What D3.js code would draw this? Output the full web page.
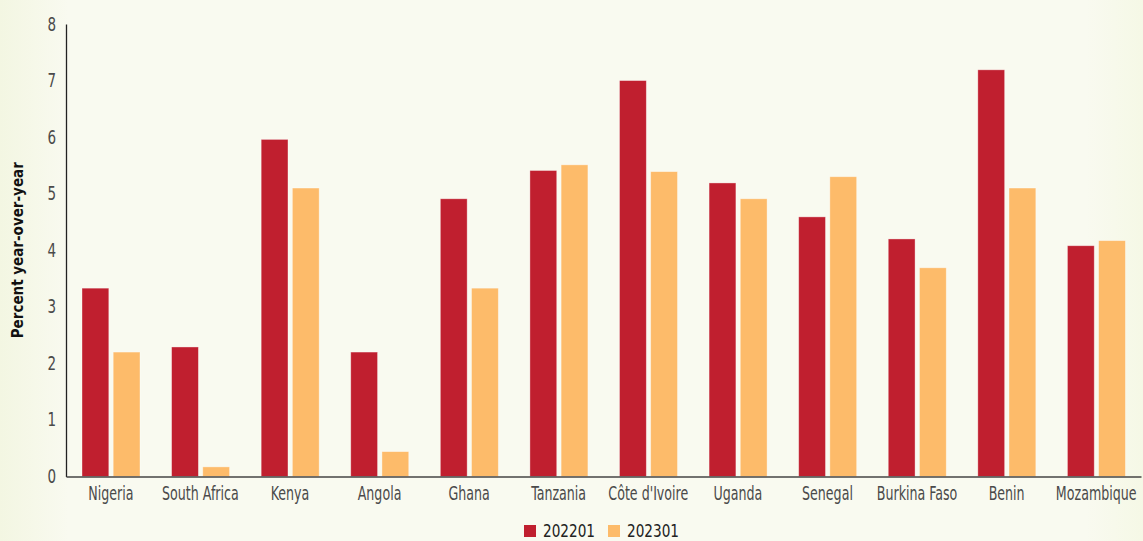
<!DOCTYPE html>
<html>
<head>
<meta charset="utf-8">
<script src="https://cdn.jsdelivr.net/npm/d3@7"></script>
<style>
  body { margin: 0; background: #f9faf0; }
  svg { display: block; }
  text { font-family: "Liberation Sans Narrow", "DejaVu Sans Condensed", "Roboto", sans-serif; }
</style>
</head>
<body>
<div id="chart"></div>
<script>
// data
const countries = ["Nigeria", "South Africa", "Kenya", "Angola", "Ghana", "Tanzania",
  "Côte d'Ivoire", "Uganda", "Senegal", "Burkina Faso", "Benin", "Mozambique"];
const series = ["202201", "202301"];
const values2022 = [3.33, 2.29, 5.96, 2.20, 4.91, 5.41, 7.00, 5.19, 4.59, 4.20, 7.19, 4.08];
const values2023 = [2.20, 0.17, 5.10, 0.44, 3.33, 5.51, 5.39, 4.91, 5.30, 3.69, 5.10, 4.17];
const yTicks = [0, 1, 2, 3, 4, 5, 6, 7, 8];

const colors = ["#c01f2f", "#fdbb6a"];

var svgWidth = 1143;
var svgHeight = 541;
var margin = {top: 24, right: 2, bottom: 64.5, left: 66};
var width = svgWidth - margin.left - margin.right;
var height = svgHeight - margin.top - margin.bottom;

// the reference font is a condensed face, squeeze the fallback horizontally
var squeeze = 0.74;

var svg = d3.select("#chart")
  .append("svg")
  .attr("width", svgWidth)
  .attr("height", svgHeight);

// soft background shading at the edges
var defs = svg.append("defs");
var grad = defs.append("linearGradient").attr("id", "bg").attr("x1", "0").attr("x2", "1");
grad.append("stop").attr("offset", "0").attr("stop-color", "#f3f6e2");
grad.append("stop").attr("offset", "0.06").attr("stop-color", "#f9faf0");
grad.append("stop").attr("offset", "0.95").attr("stop-color", "#f9faf0");
grad.append("stop").attr("offset", "1").attr("stop-color", "#f5f8e6");
svg.append("rect").attr("width", svgWidth).attr("height", svgHeight).attr("fill", "url(#bg)");

var chartGroup = svg.append("g")
  .attr("transform", `translate(${margin.left}, ${margin.top})`);

var rows = countries.map((c, i) => ({country: c, vals: [values2022[i], values2023[i]]}));

var x0 = d3.scaleBand()
  .domain(countries)
  .range([0, width])
  .paddingInner(0)
  .paddingOuter(0);

var x1 = d3.scaleBand()
  .domain(series)
  .range([16, 74])
  .paddingInner(0.14);

var yScale = d3.scaleLinear()
  .domain([0, 8])
  .range([height, 0]);

// y axis
var yAxis = d3.axisLeft(yScale).tickValues(yTicks).tickSize(0);
var yg = chartGroup.append("g").call(yAxis);
yg.select(".domain").attr("stroke", "#222").attr("stroke-width", 1.3);
yg.selectAll("text")
  .attr("x", -10 / 0.75)
  .attr("dy", "0.3em")
  .attr("transform", "scale(0.75,1)")
  .attr("fill", "#4a4a4a")
  .style("font-size", "20px");

// bars
var groups = chartGroup.selectAll(".country")
  .data(rows)
  .enter()
  .append("g")
  .attr("transform", d => `translate(${x0(d.country)}, 0)`);

groups.selectAll("rect")
  .data(d => d.vals.map((v, i) => ({key: series[i], value: v, idx: i})))
  .enter()
  .append("rect")
  .attr("x", d => x1(d.key))
  .attr("y", d => yScale(d.value))
  .attr("width", x1.bandwidth())
  .attr("height", d => height - yScale(d.value))
  .attr("fill", d => colors[d.idx])
  .attr("stroke", "#ffffff")
  .attr("stroke-opacity", 0.45)
  .attr("stroke-width", 0.8);

// x axis
var xAxis = d3.axisBottom(x0).tickSize(0);
var xg = chartGroup.append("g")
  .attr("transform", `translate(0, ${height})`)
  .call(xAxis);
xg.select(".domain").attr("stroke", "#444").attr("stroke-width", 1.6);
xg.selectAll("text")
  .attr("y", 24)
  .attr("dy", 0)
  .attr("transform", `scale(${squeeze},1)`)
  .attr("fill", "#4a4a4a")
  .style("font-size", "19px");

// y axis label
chartGroup.append("text")
  .attr("transform", "rotate(-90)")
  .attr("x", 0 - (height / 2))
  .attr("y", 0 - margin.left + 23)
  .attr("text-anchor", "middle")
  .attr("fill", "#111")
  .style("font-size", "15px")
  .style("font-weight", "bold")
  .text("Percent year-over-year");

// legend
var legend = svg.append("g").attr("transform", "translate(524, 525)");
var items = legend.selectAll("g")
  .data(series)
  .enter()
  .append("g")
  .attr("transform", (d, i) => `translate(${i * 84}, 0)`);
items.append("rect")
  .attr("width", 12)
  .attr("height", 12)
  .attr("fill", (d, i) => colors[i]);
items.append("text")
  .attr("x", 19)
  .attr("y", 12)
  .attr("textLength", 52)
  .attr("lengthAdjust", "spacingAndGlyphs")
  .attr("fill", "#222")
  .style("font-size", "17px")
  .text(d => d);
</script>
</body>
</html>
